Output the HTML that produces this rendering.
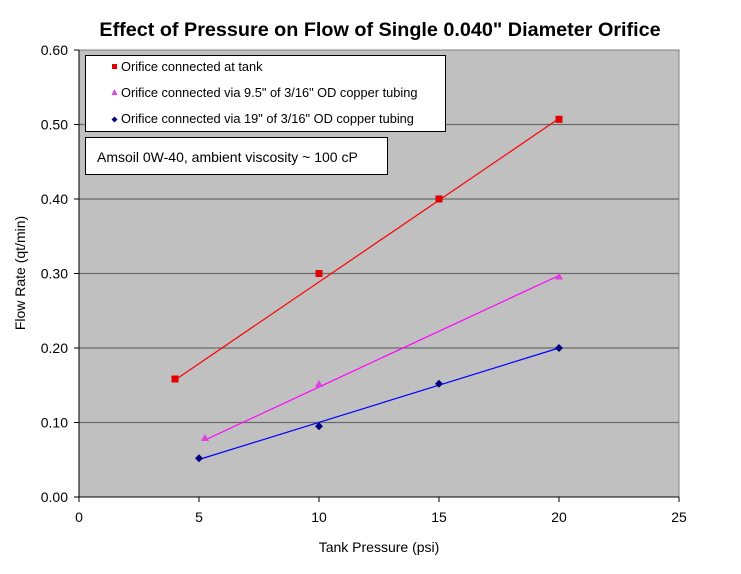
<!DOCTYPE html>
<html><head><style>body{margin:0;background:#fff}svg{display:block;font-family:"Liberation Sans",Arial,sans-serif}</style></head><body>
<svg width="741" height="574" viewBox="0 0 741 574">
<rect x="79" y="50" width="600" height="447" fill="#c0c0c0" stroke="#808080" stroke-width="1"/>
<g stroke="#6a6a6a" stroke-width="1.2">
<line x1="79" y1="124.5" x2="679" y2="124.5"/>
<line x1="79" y1="199" x2="679" y2="199"/>
<line x1="79" y1="273.5" x2="679" y2="273.5"/>
<line x1="79" y1="348" x2="679" y2="348"/>
<line x1="79" y1="422.5" x2="679" y2="422.5"/>
</g>
<g stroke="#000" stroke-width="1">
<line x1="79" y1="50" x2="79" y2="497"/><line x1="79" y1="497" x2="679" y2="497"/>
<line x1="74" y1="50" x2="79" y2="50"/><line x1="74" y1="124.5" x2="79" y2="124.5"/><line x1="74" y1="199" x2="79" y2="199"/><line x1="74" y1="273.5" x2="79" y2="273.5"/><line x1="74" y1="348" x2="79" y2="348"/><line x1="74" y1="422.5" x2="79" y2="422.5"/><line x1="74" y1="497" x2="79" y2="497"/>
<line x1="79" y1="497" x2="79" y2="502"/><line x1="199" y1="497" x2="199" y2="502"/><line x1="319" y1="497" x2="319" y2="502"/><line x1="439" y1="497" x2="439" y2="502"/><line x1="559" y1="497" x2="559" y2="502"/><line x1="679" y1="497" x2="679" y2="502"/>
</g>
<g font-size="14" text-anchor="end">
<text x="68" y="55">0.60</text><text x="68" y="129.5">0.50</text><text x="68" y="204">0.40</text><text x="68" y="278.5">0.30</text><text x="68" y="353">0.20</text><text x="68" y="427.5">0.10</text><text x="68" y="502">0.00</text>
</g>
<g font-size="14" text-anchor="middle">
<text x="79" y="522">0</text><text x="199" y="522">5</text><text x="319" y="522">10</text><text x="439" y="522">15</text><text x="559" y="522">20</text><text x="679" y="522">25</text>
<text x="379" y="552">Tank Pressure (psi)</text>
<text x="380" y="36" font-size="19.8" font-weight="bold">Effect of Pressure on Flow of Single 0.040" Diameter Orifice</text>
</g>
<text transform="translate(25,273) rotate(-90)" font-size="14" text-anchor="middle">Flow Rate (qt/min)</text>
<line x1="175" y1="380" x2="559" y2="118.5" stroke="#ff0000" stroke-width="1.2"/>
<line x1="205" y1="440" x2="559" y2="275.5" stroke="#ff00ff" stroke-width="1.2"/>
<line x1="199" y1="459.5" x2="559" y2="348" stroke="#0000ff" stroke-width="1.2"/>
<g fill="#e00000">
<rect x="171.5" y="375.5" width="7" height="7"/><rect x="315.5" y="270" width="7" height="7"/><rect x="435.5" y="195.5" width="7" height="7"/><rect x="555.5" y="115.8" width="7" height="7"/>
</g>
<g fill="#e040e0">
<polygon points="205,434 209,441 201,441"/><polygon points="319,380 323,387 315,387"/><polygon points="559,272.5 563,279.5 555,279.5"/>
</g>
<g fill="#000080">
<polygon points="199,454.3 203,458.3 199,462.3 195,458.3"/><polygon points="319,422.2 323,426.2 319,430.2 315,426.2"/><polygon points="439,379.8 443,383.8 439,387.8 435,383.8"/><polygon points="559,344 563,348 559,352 555,348"/>
</g>
<rect x="85.5" y="55.5" width="360" height="76" fill="#fff" stroke="#000"/>
<g font-size="12.8">
<rect x="112" y="64" width="5" height="5" fill="#e00000"/><text x="121" y="71">Orifice connected at tank</text>
<polygon points="114.5,89 117.5,95 111.5,95" fill="#e040e0"/><text x="121" y="97">Orifice connected via 9.5" of 3/16" OD copper tubing</text>
<polygon points="114.5,116.5 117.5,119.5 114.5,122.5 111.5,119.5" fill="#000080"/><text x="121" y="123">Orifice connected via 19" of 3/16" OD copper tubing</text>
</g>
<rect x="85.5" y="137.5" width="302" height="37" fill="#fff" stroke="#000"/>
<text x="97" y="162" font-size="14">Amsoil 0W-40, ambient viscosity ~ 100 cP</text>
</svg>
</body></html>
